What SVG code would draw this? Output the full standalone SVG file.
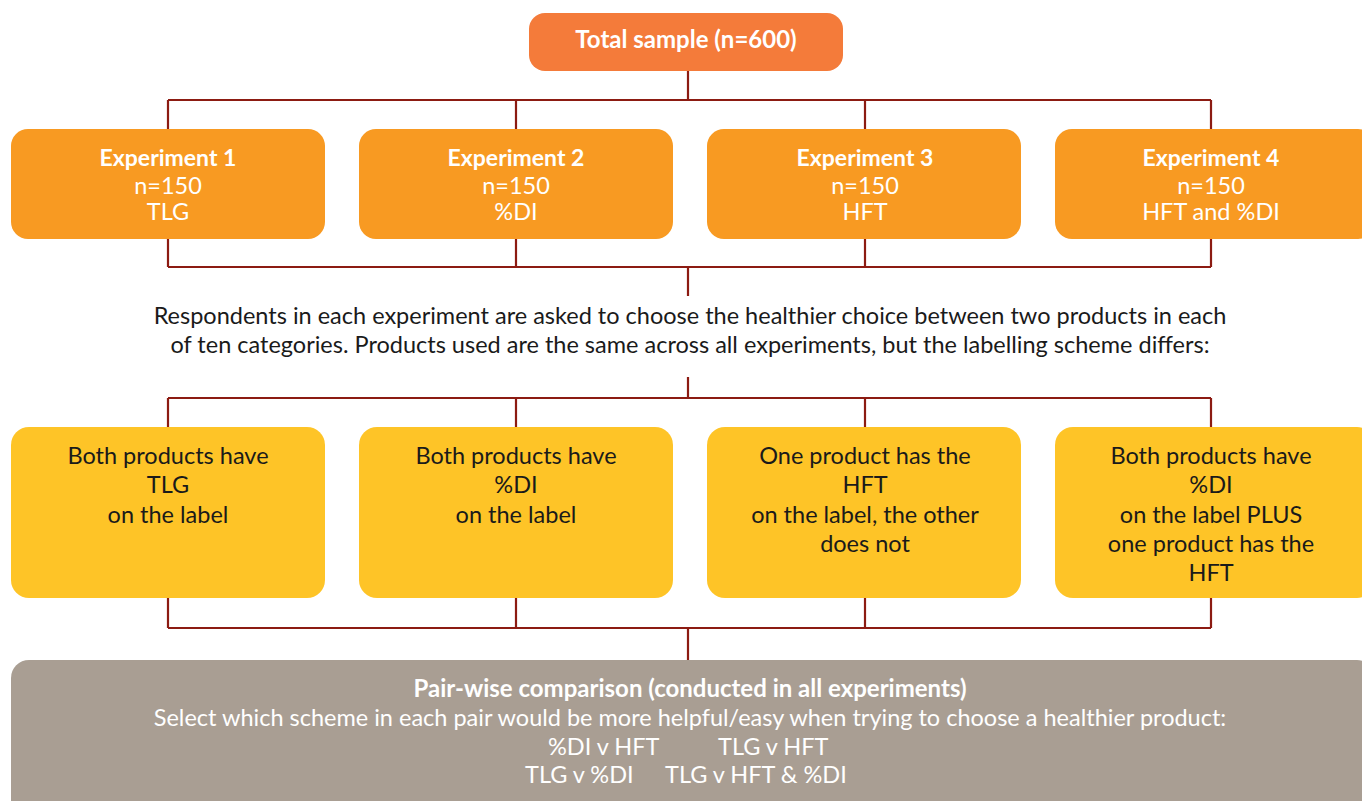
<svg xmlns="http://www.w3.org/2000/svg" width="1362" height="801" viewBox="0 0 1362 801">
<style>
.t{font-family:Lato,"Open Sans","DejaVu Sans",sans-serif;text-anchor:middle}
.s{text-anchor:start}
.w{fill:#ffffff}
.d{fill:#1a1a1a}
.b{font-weight:bold}
.f23{font-size:23px}
.f235{font-size:23.5px}
.f24{font-size:24px}
.con{fill:none;stroke:#8c1b12;stroke-width:2.2}
.top{fill:#f47b3a}
.exp{fill:#f89a22}
.lab{fill:#fec427}
.gry{fill:#a99e93}
</style>
<rect width="1362" height="801" fill="#ffffff"/>
<g id="connectors" class="con">
<path d="M688 70V100M168 100H1211M168 100V130M516 100V130M865 100V130M1211 100V130"/>
<path d="M168 238V267M516 238V267M865 238V267M1211 238V267M168 267H1211M688 267V296"/>
<path d="M688 377V398M168 398H1211M168 398V428M516 398V428M865 398V428M1211 398V428"/>
<path d="M168 597V628M516 597V628M865 597V628M1211 597V628M168 628H1211M688 628V660"/>
</g>
<g id="total">
<rect class="top" x="529" y="13" width="314" height="58" rx="16"/>
<text class="t w b f24" x="686" y="48">Total sample (n=600)</text>
</g>
<g id="exp1">
<rect class="exp" x="11" y="129" width="314" height="110" rx="17"/>
<text class="t w b f23" x="168" y="166">Experiment 1</text>
<text class="t w f235" x="168" y="194">n=150<tspan x="168" dy="26">TLG</tspan></text>
</g>
<g id="exp2">
<rect class="exp" x="359" y="129" width="314" height="110" rx="17"/>
<text class="t w b f23" x="516" y="166">Experiment 2</text>
<text class="t w f235" x="516" y="194">n=150<tspan x="516" dy="26">%DI</tspan></text>
</g>
<g id="exp3">
<rect class="exp" x="707" y="129" width="314" height="110" rx="17"/>
<text class="t w b f23" x="865" y="166">Experiment 3</text>
<text class="t w f235" x="865" y="194">n=150<tspan x="865" dy="26">HFT</tspan></text>
</g>
<g id="exp4">
<rect class="exp" x="1055" y="129" width="320" height="110" rx="17"/>
<text class="t w b f23" x="1211" y="166">Experiment 4</text>
<text class="t w f235" x="1211" y="194">n=150<tspan x="1211" dy="26">HFT and %DI</tspan></text>
</g>
<g id="description">
<text class="t d f235" x="690" y="324">Respondents in each experiment are asked to choose the healthier choice between two products in each<tspan x="690" dy="29">of ten categories. Products used are the same across all experiments, but the labelling scheme differs:</tspan></text>
</g>
<g id="scheme1">
<rect class="lab" x="11" y="427" width="314" height="171" rx="18"/>
<text class="t d f235" x="168" y="464">Both products have<tspan x="168" dy="29.3">TLG</tspan><tspan x="168" dy="29.3">on the label</tspan></text>
</g>
<g id="scheme2">
<rect class="lab" x="359" y="427" width="314" height="171" rx="18"/>
<text class="t d f235" x="516" y="464">Both products have<tspan x="516" dy="29.3">%DI</tspan><tspan x="516" dy="29.3">on the label</tspan></text>
</g>
<g id="scheme3">
<rect class="lab" x="707" y="427" width="314" height="171" rx="18"/>
<text class="t d f235" x="865" y="464">One product has the<tspan x="865" dy="29.3">HFT</tspan><tspan x="865" dy="29.3">on the label, the other</tspan><tspan x="865" dy="29.3">does not</tspan></text>
</g>
<g id="scheme4">
<rect class="lab" x="1055" y="427" width="320" height="171" rx="18"/>
<text class="t d f235" x="1211" y="464">Both products have<tspan x="1211" dy="29.3">%DI</tspan><tspan x="1211" dy="29.3">on the label PLUS</tspan><tspan x="1211" dy="29.3">one product has the</tspan><tspan x="1211" dy="29.3">HFT</tspan></text>
</g>
<g id="pairwise">
<rect class="gry" x="11" y="660" width="1364" height="160" rx="18"/>
<text class="t w b f24" x="690" y="697">Pair-wise comparison (conducted in all experiments)</text>
<text class="t w f235" x="690" y="726">Select which scheme in each pair would be more helpful/easy when trying to choose a healthier product:</text>
<text class="t s w f235" x="548" y="755">%DI v HFT</text>
<text class="t s w f235" x="718" y="755">TLG v HFT</text>
<text class="t s w f235" x="525" y="783">TLG v %DI</text>
<text class="t s w f235" x="665" y="783">TLG v HFT &amp; %DI</text>
</g>
</svg>
